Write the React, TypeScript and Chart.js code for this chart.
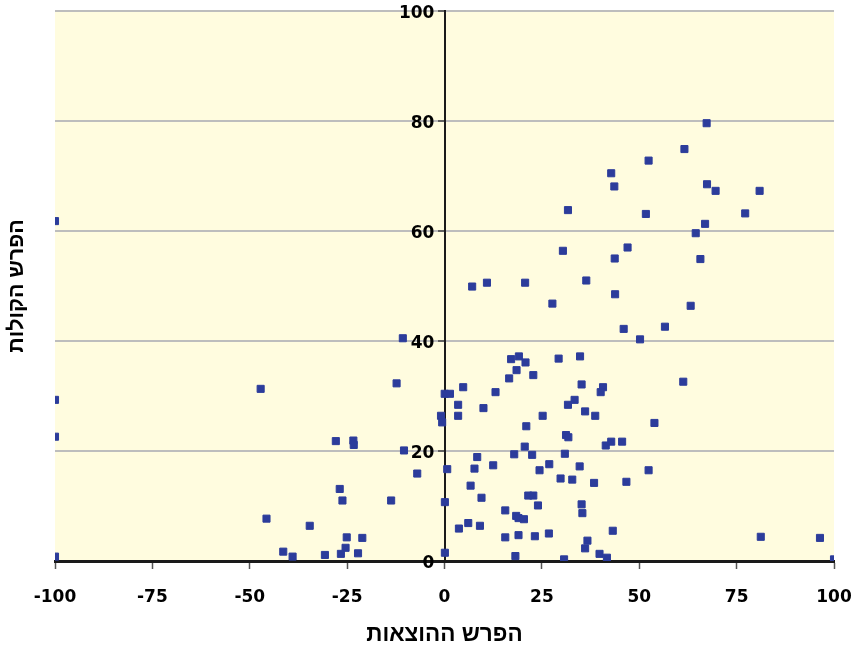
import React, { useEffect, useRef } from "react";
import { Chart, registerables } from "chart.js";

Chart.register(...registerables);

// הפרש ההוצאות (x) and הפרש הקולות (y), one entry per point
const spendingDiff: number[] = [
  -100, -100, -100, -100,
  -47.2, -10.7, -12.3, -0.9, -0.6, -27.9, -23.4, -23.3, -10.4, -7.0, 0.7,
  -26.9, -26.2, -13.7, 0.1, -45.7, -34.6, -25.1, -21.1, -25.4, -41.4, -39.0,
  -30.7, -26.6, -22.2, 0.1,
  7.1, 10.9, 20.7, 36.4, 43.8, 27.7, 46.0, 50.2, 17.1, 19.1, 20.8, 18.5, 22.8,
  16.6, 29.3, 34.8, 35.2, 40.7, 40.1, 4.8, 13.1, 0.05, 1.4, 33.4, 31.7, 3.5,
  10.0, 36.1, 38.7, 3.5, 25.2, 21.0, 31.2, 31.8, 41.4, 42.8, 45.6, 20.6, 8.4,
  17.9, 22.5, 30.9, 7.7, 12.5, 24.4, 26.9, 34.7, 52.4, 29.8, 32.8, 38.4, 46.7,
  6.7, 9.5, 21.5, 22.8, 24.0, 35.2, 35.4, 15.6, 18.4, 19.0, 20.4, 3.7, 6.1,
  9.1, 43.2, 15.6, 19.0, 23.2, 26.8, 36.7, 36.1, 39.8, 41.7, 18.2, 30.7,
  63.2, 56.6, 61.3, 53.9, 81.2, 96.4, 100,
  52.4, 42.8, 43.6, 31.7, 51.7, 30.4, 47.0, 43.7,
  67.3, 61.6, 67.4, 69.6, 80.9, 77.2, 66.9, 64.5, 65.7,
];

const voteDiff: number[] = [
  61.8, 29.3, 22.6, 0.8,
  31.3, 40.5, 32.3, 26.4, 25.2, 21.8, 21.9, 21.1, 20.1, 15.9, 16.7,
  13.1, 11.0, 11.0, 10.7, 7.7, 6.4, 4.3, 4.2, 2.4, 1.7, 0.8,
  1.1, 1.3, 1.4, 1.5,
  49.9, 50.6, 50.6, 51.0, 48.5, 46.8, 42.2, 40.3, 36.7, 37.2, 36.1, 34.7, 33.8,
  33.2, 36.8, 37.2, 32.1, 31.6, 30.7, 31.6, 30.7, 30.4, 30.4, 29.3, 28.4, 28.4,
  27.8, 27.2, 26.4, 26.4, 26.4, 24.5, 22.9, 22.5, 21.0, 21.7, 21.7, 20.8, 18.9,
  19.4, 19.3, 19.5, 16.8, 17.4, 16.5, 17.6, 17.2, 16.5, 15.0, 14.8, 14.2, 14.4,
  13.7, 11.5, 11.9, 11.9, 10.1, 10.3, 8.7, 9.2, 8.2, 7.8, 7.6, 5.9, 6.9,
  6.4, 5.5, 4.3, 4.7, 4.5, 5.0, 3.7, 2.3, 1.3, 0.6, 0.9, 0.3,
  46.4, 42.6, 32.6, 25.1, 4.4, 4.2, 0.3,
  72.8, 70.5, 68.1, 63.8, 63.1, 56.4, 57.0, 55.0,
  79.6, 74.9, 68.5, 67.3, 67.3, 63.2, 61.3, 59.6, 54.9,
];

const xTickValues: number[] = [-100, -75, -50, -25, 0, 25, 50, 75, 100];
const yTickValues: number[] = [0, 20, 40, 60, 80, 100];

const xTitle = "הפרש ההוצאות";
const yTitle = "הפרש הקולות";

const tickFont = { family: "'DejaVu Sans', Verdana, sans-serif", size: 17, weight: "bold" as const };
const xTitleFont = { family: "'Liberation Sans', Arial, sans-serif", size: 22.5, weight: "bold" as const, lineHeight: 1 };
const yTitleFont = { family: "'Liberation Sans', Arial, sans-serif", size: 21.5, weight: "bold" as const, lineHeight: 1 };

const plotBackground = {
  id: "plotBackground",
  beforeDraw(chart: any) {
    const { ctx, chartArea } = chart;
    if (!chartArea) return;
    ctx.save();
    ctx.fillStyle = "#FFFCDF";
    ctx.fillRect(chartArea.left, chartArea.top, chartArea.right - chartArea.left, chartArea.bottom - chartArea.top);
    ctx.restore();
  },
};

export default function App() {
  const canvasRef = useRef<HTMLCanvasElement | null>(null);

  useEffect(() => {
    document.body.style.margin = "0";
    const canvas = canvasRef.current;
    if (!canvas) return;
    const points = spendingDiff.map((x, i) => ({ x, y: voteDiff[i] }));
    const noPadY = (scale: any) => {
      scale.paddingTop = 0;
      scale.paddingBottom = 0;
    };
    const setYTicks = (scale: any) => {
      scale.ticks = yTickValues.map((v) => ({ value: v }));
    };
    const chart = new Chart(canvas, {
      type: "scatter",
      data: {
        datasets: [
          {
            data: points,
            pointStyle: "rect",
            pointRadius: 5,
            pointHoverRadius: 5,
            backgroundColor: "#2C3C9B",
            borderColor: "#2C3C9B",
            borderWidth: 1,
            yAxisID: "y",
            xAxisID: "x",
          },
        ],
      },
      plugins: [plotBackground],
      options: {
        animation: false,
        responsive: false,
        maintainAspectRatio: false,
        layout: { padding: { left: 0, right: 21, top: 11, bottom: 0 } },
        plugins: { legend: { display: false }, tooltip: { enabled: false } },
        scales: {
          x: {
            type: "linear",
            position: "bottom",
            min: -100,
            max: 100,
            afterBuildTicks: (scale: any) => {
              scale.ticks = xTickValues.map((v) => ({ value: v }));
            },
            afterFit: (scale: any) => {
              scale.height = 85;
              scale.paddingLeft = 0;
              scale.paddingRight = 0;
            },
            grid: {
              display: true,
              drawOnChartArea: false,
              drawTicks: true,
              tickLength: 8,
              tickColor: "#555555",
              tickWidth: 1.5,
            },
            border: { display: true, color: "#1A1A1A", width: 3 },
            ticks: { color: "#000000", font: tickFont, padding: 18, maxRotation: 0 },
            title: { display: true, text: xTitle, color: "#000000", font: xTitleFont, padding: { top: 0, bottom: 0 } },
          },
          y: {
            type: "linear",
            position: { x: 0 } as any,
            min: 0,
            max: 100,
            afterBuildTicks: setYTicks,
            afterFit: noPadY,
            grid: {
              display: true,
              drawOnChartArea: true,
              drawTicks: true,
              tickLength: 6,
              color: "#BDBDBD",
              lineWidth: 2,
              tickColor: "#444444",
              tickWidth: 1.5,
            },
            border: { display: true, color: "#1A1A1A", width: 2 },
            ticks: { display: false },
          },
          yLabels: {
            type: "linear",
            position: { x: -2.6 } as any,
            min: 0,
            max: 100,
            afterBuildTicks: setYTicks,
            afterFit: noPadY,
            grid: { display: false },
            border: { display: false },
            ticks: { color: "#000000", font: tickFont, padding: 0, labelOffset: 3 },
          },
          yTitleAxis: {
            type: "linear",
            position: "left",
            min: 0,
            max: 100,
            afterFit: (scale: any) => {
              scale.width = 55;
              scale.paddingTop = 0;
              scale.paddingBottom = 0;
            },
            grid: { display: false },
            border: { display: false },
            ticks: { display: false },
            title: { display: true, text: yTitle, color: "#000000", font: yTitleFont, padding: { top: 6, bottom: 0 } },
          },
        },
      },
    });
    return () => chart.destroy();
  }, []);

  return (
    <div style={{ width: 855, height: 646, position: "relative" }}>
      <canvas ref={canvasRef} width={855} height={646} style={{ display: "block" }} />
    </div>
  );
}
